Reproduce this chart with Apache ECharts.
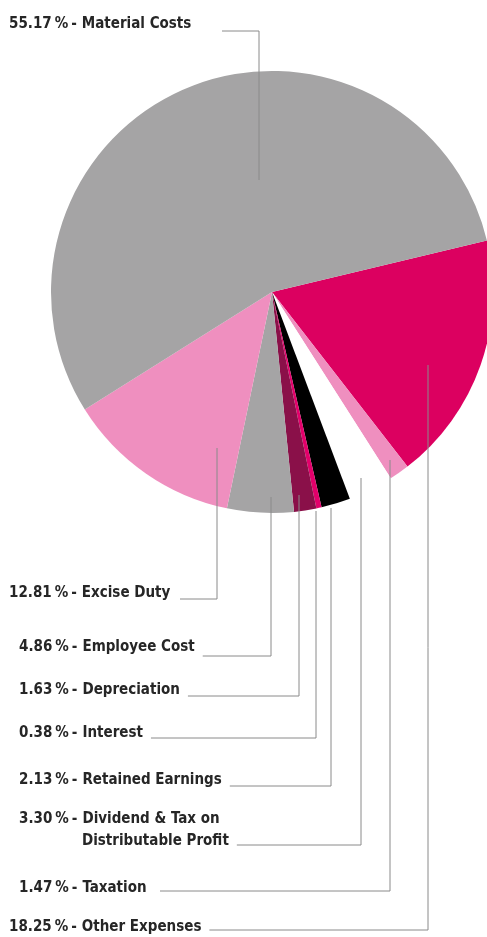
<!DOCTYPE html>
<html>
<head>
<meta charset="utf-8">
<script src="https://cdn.jsdelivr.net/npm/echarts@6/dist/echarts.min.js"></script>
<style>
  html, body { margin: 0; padding: 0; background: #fff; }
  #chart { width: 487px; height: 937px; }
</style>
</head>
<body>
<div id="chart"></div>
<script>
// Cost breakdown, in percent, listed clockwise from the right-hand edge.
const categories = [
  'Other Expenses',
  'Taxation',
  'Dividend & Tax on\nDistributable Profit',
  'Retained Earnings',
  'Interest',
  'Depreciation',
  'Employee Cost',
  'Excise Duty',
  'Material Costs'
];
const values = [18.25, 1.47, 3.30, 2.13, 0.38, 1.63, 4.86, 12.81, 55.17];

// Slice fills, same order as the categories.
const sliceColors = [
  '#dc0060', '#ef8fbf', '#ffffff', '#000000', '#e3006b',
  '#8a1049', '#a5a4a5', '#ef8fbf', '#a5a4a5'
];

// Label placement: text centre y, leader bend y, leader start x,
// vertical leader x and the point inside the slice where it ends.
const labelLayoutSpec = [
  { ty: 927, ly: 930, lx: 208, vx: 428, ay: 365 },
  { ty: 888, ly: 891, lx: 160, vx: 390, ay: 460 },
  { ty: 830, ly: 845, lx: 223, vx: 361, ay: 478 },
  { ty: 780, ly: 786, lx: 215, vx: 331, ay: 508 },
  { ty: 733, ly: 738, lx: 146, vx: 316, ay: 511 },
  { ty: 690, ly: 696, lx: 175, vx: 299, ay: 495 },
  { ty: 647, ly: 656, lx: 195, vx: 271, ay: 497 },
  { ty: 593, ly: 599, lx: 180, vx: 217, ay: 448 },
  { ty: 24,  ly: 31,  lx: 222, vx: 259, ay: 180 }
];

const FONT = '"Liberation Sans Narrow", "DejaVu Sans Condensed", "Roboto Condensed", sans-serif';
const FONT_SIZE = 15;
const FONT_WEIGHT = 'bold';
const TEXT_COLOR = '#262626';
const LABEL_X = 8;      // left edge of the label column
const NUM_RIGHT = 44;   // numbers are right-aligned to this offset
const GAP_PCT = 3;      // space before "%"
const GAP_DASH = 3;     // space before "-"
const NAME_LEFT = 74;   // names start at this offset

// Width of a string in the label font, used to line the columns up.
const measureCtx = document.createElement('canvas').getContext('2d');
measureCtx.font = FONT_WEIGHT + ' ' + FONT_SIZE + 'px ' + FONT;
function textWidth(s) { return measureCtx.measureText(s).width; }

function spacer(w) { return '{sp' + Math.max(0, Math.round(w)) + '|}'; }

function labelText(name, value) {
  const num = value.toFixed(2);
  const afterDash = NUM_RIGHT + GAP_PCT + textWidth('%') + GAP_DASH + textWidth('-');
  const lines = name.split('\n');
  let s = spacer(NUM_RIGHT - textWidth(num)) + '{txt|' + num + '}' +
          spacer(GAP_PCT) + '{txt|%}' + spacer(GAP_DASH) + '{txt|-}' +
          spacer(Math.max(3, NAME_LEFT - afterDash)) + '{txt|' + lines[0] + '}';
  for (let i = 1; i < lines.length; i++) {
    s += '\n' + spacer(NAME_LEFT) + '{txt|' + lines[i] + '}';
  }
  return s;
}

const textStyle = { fontFamily: FONT, fontSize: FONT_SIZE, fontWeight: FONT_WEIGHT, color: TEXT_COLOR };

// Rich-text styles: a text style plus fixed-width spacers.
const rich = { txt: Object.assign({}, textStyle) };
for (let w = 0; w <= NAME_LEFT; w++) {
  rich['sp' + w] = Object.assign({ width: w }, textStyle);
}

const pieData = categories.map((c, i) => ({ name: c, value: values[i] }));
const pieBase = {
  type: 'pie',
  center: [272, 292],
  radius: [0, 221],
  startAngle: 13.5,
  clockwise: true,
  avoidLabelOverlap: false,
  silent: true
};

const chart = echarts.init(document.getElementById('chart'), null, { renderer: 'canvas' });

chart.setOption({
  animation: false,
  backgroundColor: '#ffffff',
  series: [
    // Filled slices.
    Object.assign({}, pieBase, {
      z: 1,
      data: pieData.map((d, i) => Object.assign({}, d, { itemStyle: { color: sliceColors[i] } })),
      label: { show: false },
      labelLine: { show: false }
    }),
    // Same slices without fill, carrying the labels and leaders so they sit on top.
    Object.assign({}, pieBase, {
      z: 3,
      data: pieData,
      itemStyle: { color: 'rgba(0,0,0,0)' },
      label: Object.assign({
        show: true,
        position: 'outside',
        formatter: p => labelText(p.name, p.value),
        lineHeight: 22,
        rich: rich
      }, textStyle),
      labelLine: {
        show: true,
        lineStyle: { color: '#8a8a8a', width: 1 }
      },
      labelLayout: function (params) {
        const spec = labelLayoutSpec[params.dataIndex];
        const textEnd = LABEL_X + params.labelRect.width;
        const lx = Math.max(spec.lx, textEnd + 8);
        return {
          x: LABEL_X,
          y: spec.ty,
          align: 'left',
          verticalAlign: 'middle',
          labelLinePoints: [[spec.vx, spec.ay], [spec.vx, spec.ly], [lx, spec.ly]]
        };
      }
    })
  ]
});
</script>
</body>
</html>
